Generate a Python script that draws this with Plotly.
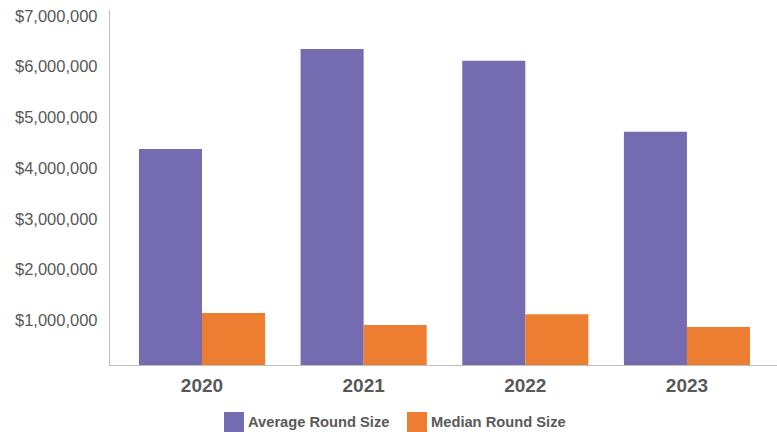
import plotly.graph_objects as go

# Funding round sizes by year
years = ["2020", "2021", "2022", "2023"]
average_round = [4260000, 6230000, 6000000, 4600000]
median_round = [1025000, 790000, 1000000, 750000]

series_names = ["Average Round Size", "Median Round Size"]
series_colors = ["#756bb1", "#ed7d31"]

y_ticks = [1000000, 2000000, 3000000, 4000000, 5000000, 6000000, 7000000]
y_tick_text = ["${:,}".format(v) for v in y_ticks]

W, H = 777, 432
L, R, T, B = 110, 0, 10, 67
FONT = "Liberation Sans, Arial, sans-serif"
TEXT = "#595959"

fig = go.Figure()
for name, vals, col in zip(series_names, [average_round, median_round], series_colors):
    fig.add_trace(go.Bar(x=years, y=vals, name=name, marker=dict(color=col, line=dict(width=0)),
                         showlegend=False))

# Custom legend with larger swatches below the plot
plot_w = W - L - R
plot_h = H - T - B


def px_x(px):
    return (px - L) / plot_w


def px_y(py):
    return (H - B - py) / plot_h


legend_items = [(224, series_names[0], series_colors[0]), (407, series_names[1], series_colors[1])]
shapes = []
annotations = []
for x0, name, col in legend_items:
    shapes.append(dict(type="rect", xref="paper", yref="paper",
                       x0=px_x(x0), x1=px_x(x0 + 20), y0=px_y(412), y1=px_y(432),
                       fillcolor=col, line=dict(width=0)))
    annotations.append(dict(xref="paper", yref="paper", x=px_x(x0 + 22), y=px_y(422),
                            xanchor="left", yanchor="middle", showarrow=False, text="<b>%s</b>" % name,
                            font=dict(family=FONT, size=14.7, color=TEXT)))

fig.update_layout(
    width=W, height=H,
    margin=dict(l=L, r=R, t=T, b=B),
    paper_bgcolor="white", plot_bgcolor="white",
    barmode="group", bargap=0.22, bargroupgap=0,
    font=dict(family=FONT, color=TEXT),
    shapes=shapes, annotations=annotations,
    xaxis=dict(range=[-0.569, 3.557], showgrid=False, showline=True, linecolor="#bfbfbf", linewidth=1.3,
               ticks="", tickfont=dict(family=FONT, size=19, color=TEXT, weight="bold"),
               ticklabelstandoff=3, zeroline=False),
    yaxis=dict(range=[0, 7000000], showgrid=False, showline=True, linecolor="#bfbfbf", linewidth=1.3,
               tickvals=y_ticks, ticktext=y_tick_text, ticks="",
               tickfont=dict(family=FONT, size=16.5, color=TEXT),
               ticklabelstandoff=8, ticklabelshift=6, zeroline=False),
)

fig.write_html("out.html")
